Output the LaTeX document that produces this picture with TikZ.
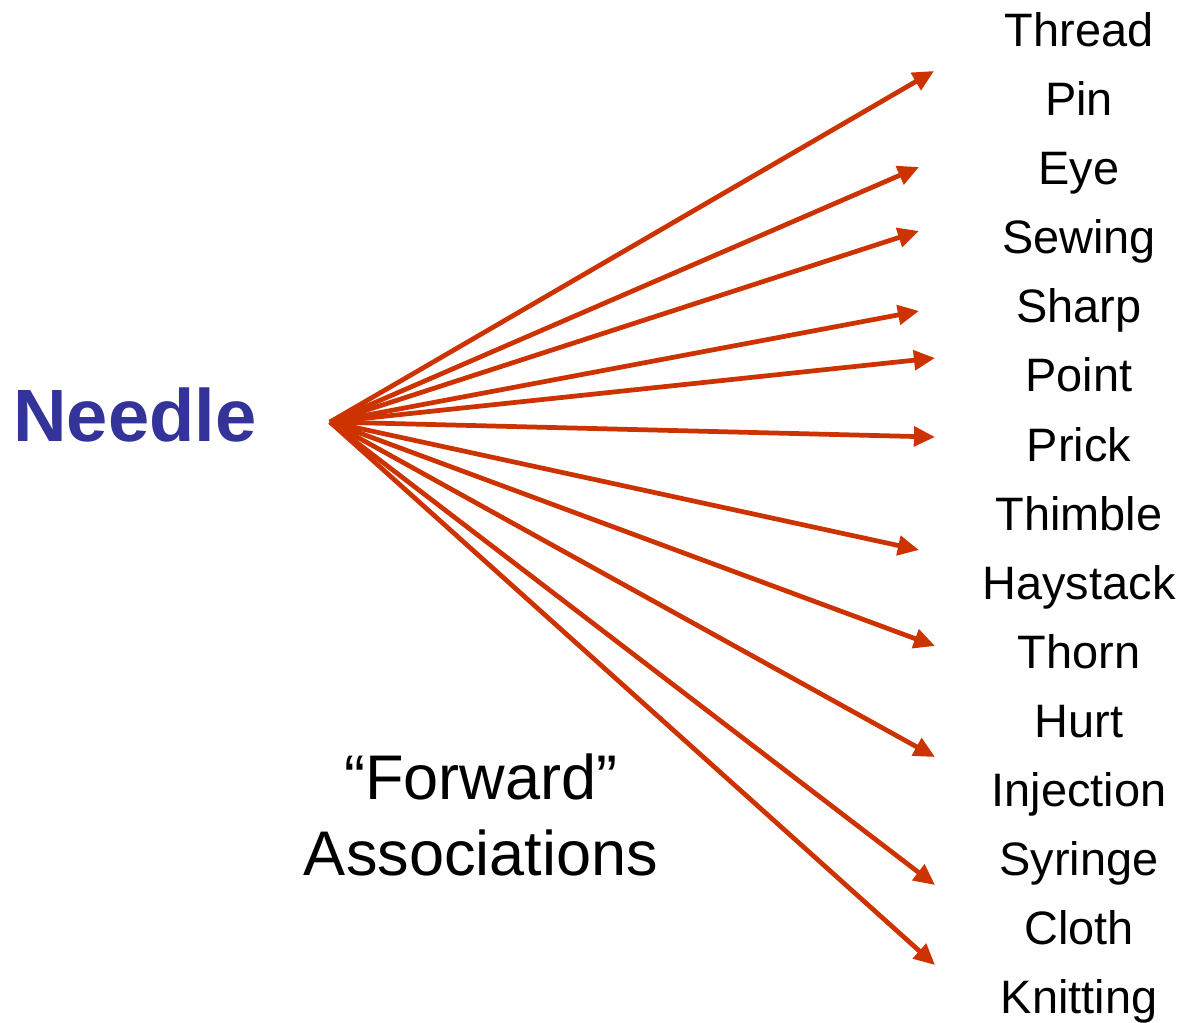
\documentclass[tikz,border=0pt]{standalone}
\usepackage{fontspec}
\setmainfont{Liberation Sans}
\usepackage{tikz}
\usetikzlibrary{arrows.meta}

\definecolor{assocred}{HTML}{CC3300}
\definecolor{cueblue}{HTML}{333399}

\begin{document}
\begin{tikzpicture}[x=0.02cm,y=-0.02cm,
    assoc/.style={draw=assocred,line width=2.7pt,
      -{Triangle[length=12pt,width=11pt]}},
    word/.style={anchor=base,inner sep=0pt,font=\fontsize{26.7}{32}\selectfont}]
  \useasboundingbox (0,0) rectangle (1182,1023);
  \node[anchor=base,inner sep=0pt,text=cueblue,font=\fontsize{42.2}{50}\selectfont\bfseries]
    at (135,441) (needle) {Needle};
  \node[anchor=base,inner sep=0pt,align=center,font=\fontsize{35.9}{42.7}\selectfont]
    at (481,875) (fwd) {``Forward''\\Associations};
  \coordinate (src) at (330,422);
  % associates, top to bottom
  \foreach \w [count=\i] in {Thread,Pin,Eye,Sewing,Sharp,Point,Prick,Thimble,
      Haystack,Thorn,Hurt,Injection,Syringe,Cloth,Knitting}
    \node[word] at (1079,{47+69*(\i-1)}) (w\i) {\w};
  % arrow tips
  \foreach \x/\y [count=\i] in {934/71,919/167,919/231,919/311,935/358,935/437,
      919/550,935/646,935/757,935/885,935/965}
  {
    \coordinate (t\i) at (\x,\y);
    \draw[assoc] (src) -- (t\i);
  }
\end{tikzpicture}
\end{document}
